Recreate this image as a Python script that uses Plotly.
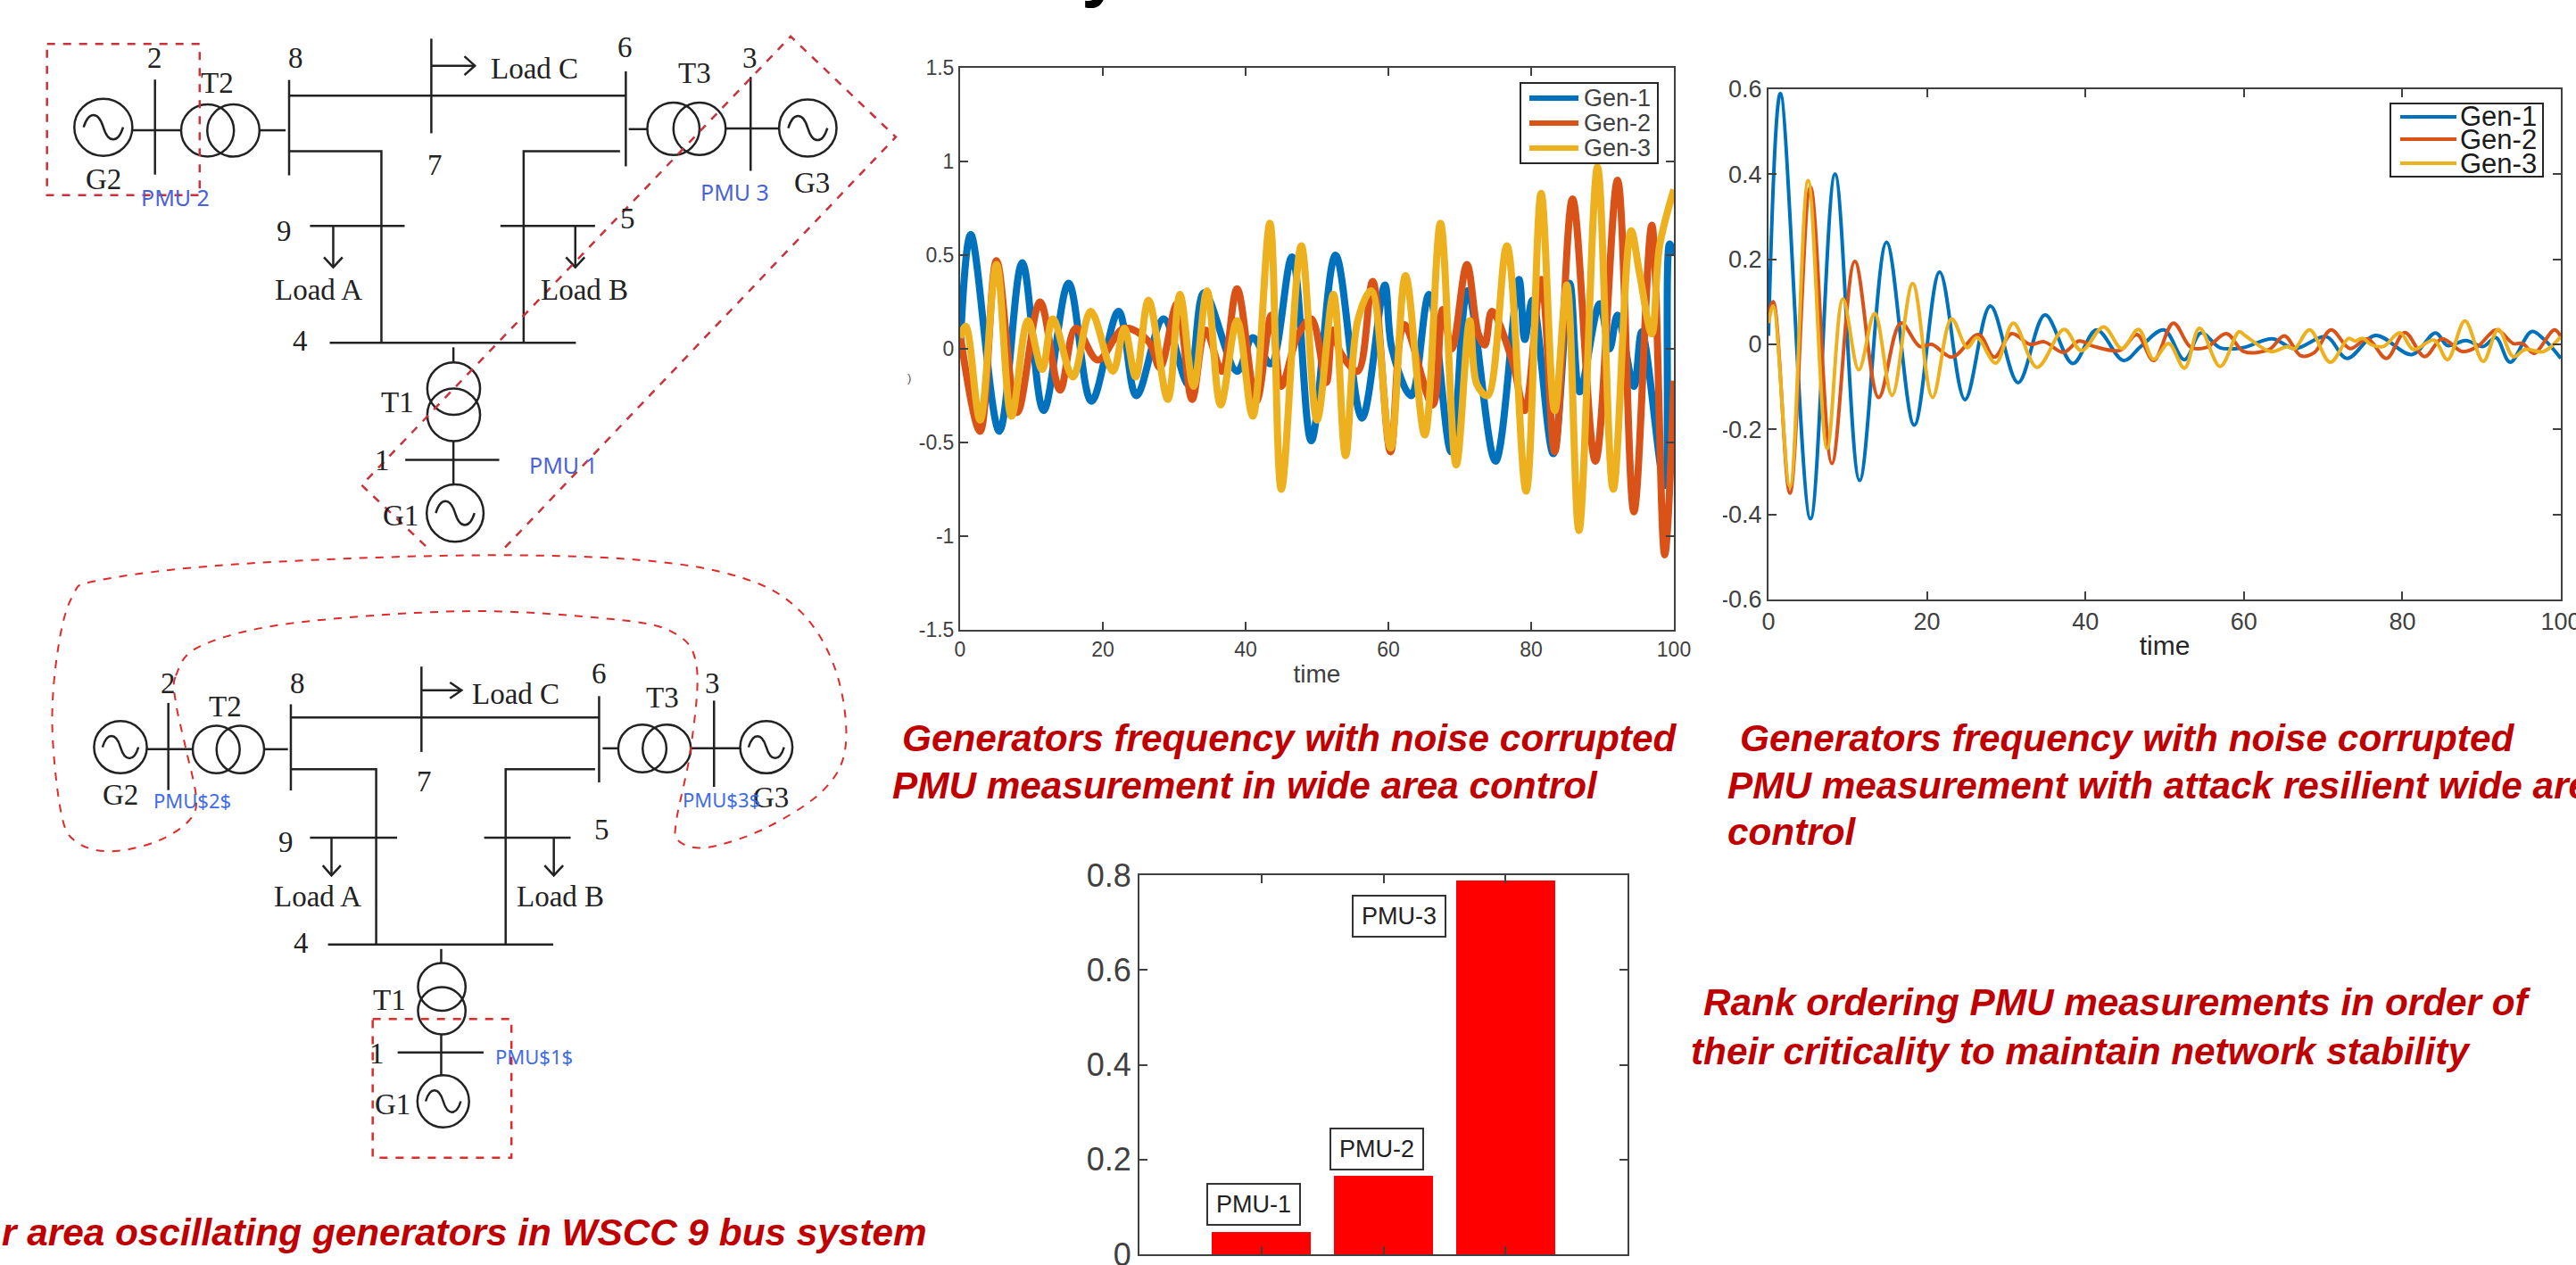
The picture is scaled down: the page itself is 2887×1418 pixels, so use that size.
import plotly.graph_objects as go

W, H = 2887, 1418

# ---------- data: noisy PMU frequency panel ----------
n1_t = [0, 1.5, 5.5, 8.7, 11.7, 15.2, 18.4, 22.2, 24.7, 28.5, 32, 34.2, 38.8, 41, 43.5, 46.5, 49.2, 52.6, 56.3, 59.5, 60.5, 63.2, 65.7, 68.8, 71.1, 75, 78.3, 79.1, 80.2, 83.1, 85.4, 86.8, 89.6, 91, 92.1, 94.4, 95.5, 98.7, 99.4, 100]
n1_v = [0, 0.61, -0.44, 0.46, -0.33, 0.35, -0.28, 0.2, -0.25, 0.16, -0.19, 0.3, -0.12, 0.06, -0.08, 0.49, -0.49, 0.5, -0.37, 0.34, 0, -0.25, 0.29, -0.55, 0.31, -0.6, 0.37, 0.05, 0.26, -0.56, 0.35, -0.23, 0.24, 0, 0.18, -0.2, 0.09, -0.73, 0.56, 0.5]
n2_t = [0, 2.8, 5.1, 8, 11.2, 14, 16.2, 19.3, 23, 26.4, 28, 30.4, 32.5, 34.4, 36.7, 38.8, 41.5, 43.6, 45, 47.3, 49.2, 51.3, 52.2, 53.3, 55.7, 57.8, 60.3, 62.2, 66.2, 67.6, 68.9, 71, 72.6, 73.5, 74.5, 77.4, 79.1, 81.4, 83.3, 85.8, 89, 92.1, 94.4, 96.9, 98.7, 100]
n2_v = [0.08, -0.44, 0.47, -0.34, 0.25, -0.22, 0.11, -0.06, 0.11, 0.04, -0.1, 0.24, -0.27, 0.1, -0.12, 0.32, -0.28, 0.18, -0.2, 0.07, 0.16, -0.18, 0.1, -0.02, -0.12, 0.36, -0.55, 0.13, -0.3, 0.21, 0, 0.45, 0.08, 0.02, 0.2, -0.07, -0.33, 0.37, -0.55, 0.8, -0.6, 0.9, -0.87, 0.66, -1.1, -0.17]
n3_t = [0, 0.8, 2.8, 5.1, 7.2, 9.5, 11.5, 13, 15.8, 18.3, 21.4, 23, 24.6, 26.4, 29.1, 30.8, 32.7, 34.6, 36.5, 38.8, 41, 43.4, 45, 47.8, 50, 52.3, 54, 55.7, 57.6, 60.3, 62.4, 65.1, 67.3, 69.5, 71.4, 72.4, 73.9, 76.6, 79.3, 81.4, 83.3, 85, 86.7, 89.3, 91.5, 94, 95.2, 96.9, 98, 100]
n3_v = [0.06, 0.12, -0.38, 0.45, -0.36, 0.15, -0.11, 0.16, -0.15, 0.2, -0.12, 0.11, -0.15, 0.26, -0.27, 0.29, -0.2, 0.31, -0.3, 0.15, -0.36, 0.67, -0.75, 0.55, -0.38, 0.29, -0.57, 0.15, 0.31, -0.53, 0.39, -0.46, 0.67, -0.62, 0.15, -0.19, -0.25, 0.55, -0.76, 0.83, -0.33, 0.34, -0.97, 0.97, -0.75, 0.63, 0.4, 0.08, 0.55, 0.85]

# ---------- data: attack resilient panel ----------
r1_t = [0, 1.5, 5.3, 8.4, 11.5, 14.9, 18.4, 21.6, 24.8, 28, 31.5, 34.9, 38.4, 41.4, 44.8, 47, 49.9, 52.5, 54.6, 57, 59.8, 63.6, 66.4, 70.4, 73, 76.6, 81.2, 84.2, 85.7, 88, 90.2, 91.8, 93.6, 96.3, 97.8, 100]
r1_v = [0.02, 0.59, -0.41, 0.4, -0.32, 0.24, -0.19, 0.17, -0.13, 0.09, -0.09, 0.069, -0.045, 0.034, -0.038, -0.005, 0.034, -0.036, 0.027, -0.008, -0.008, 0.013, -0.01, 0.018, -0.033, 0.021, -0.024, 0.027, -0.003, 0.009, -0.005, 0.016, -0.042, 0.03, 0.013, -0.033]
r2_t = [0, 0.6, 2.7, 5.3, 8, 10.9, 13.9, 16.7, 19.1, 20.6, 23.2, 26.5, 28.5, 30.7, 33, 34.8, 37.2, 39.2, 41.1, 44.4, 46.5, 48.6, 51.1, 53.3, 55.3, 57.8, 60, 63.2, 65.1, 67.2, 68.9, 71, 73.4, 75.6, 78, 80.3, 82.8, 85, 87.6, 89.5, 91.9, 94, 95.2, 96.6, 99.2, 100]
r2_v = [0.07, 0.1, -0.35, 0.37, -0.28, 0.195, -0.125, 0.05, -0.005, 0, -0.03, 0.023, -0.03, 0.025, 0, 0.006, -0.019, 0.008, -0.005, -0.014, 0.023, -0.038, 0.05, -0.007, -0.007, 0.025, -0.017, -0.012, 0.02, -0.027, -0.019, 0.034, -0.01, 0.013, -0.033, 0.028, -0.029, 0.013, -0.017, -0.005, 0.034, 0.002, 0.002, -0.021, 0.034, 0.018]
r3_t = [0, 0.6, 2.7, 5, 7.4, 9.4, 11.4, 13.4, 15.6, 18.2, 20.7, 23.1, 25.1, 26.3, 28.7, 30.9, 33.9, 37.3, 39.5, 42.3, 44.6, 46.7, 48.6, 50.5, 52.5, 54.4, 57, 59.4, 60.2, 63.4, 65.5, 66.4, 68.3, 70.9, 73.2, 74, 75, 76.1, 77.6, 79.7, 81.4, 84, 85.7, 87.9, 90.2, 92.1, 94, 95.5, 97.8, 100]
r3_v = [0.05, 0.09, -0.335, 0.385, -0.245, 0.107, -0.06, 0.073, -0.12, 0.143, -0.125, 0.06, -0.008, 0.016, -0.044, 0.05, -0.054, 0.035, -0.015, 0.041, -0.01, 0.035, -0.035, 0.002, -0.056, 0.038, -0.052, 0.03, 0.02, -0.017, -0.005, -0.01, 0.034, -0.042, 0.014, 0.008, 0.014, -0.001, -0.005, 0.027, -0.012, 0.01, -0.036, 0.055, -0.04, 0.035, -0.029, -0.012, -0.017, 0.018]

# ---------- data: bar panel ----------
pmu_pos = [1, 2, 3]
pmu_rank = [0.048, 0.166, 0.789]
pmu_labels = ["PMU-1", "PMU-2", "PMU-3"]

gen_names = ["Gen-1", "Gen-2", "Gen-3"]
gen_colors = ["#0072BD", "#D95319", "#EDB120"]
xticks = [0, 20, 40, 60, 80, 100]
n_yticks = [-1.5, -1, -0.5, 0, 0.5, 1, 1.5]
n_yticktext = ["-1.5", "-1", "-0.5", "0", "0.5", "1", "1.5"]
r_yticks = [-0.6, -0.4, -0.2, 0, 0.2, 0.4, 0.6]
r_yticktext = ["-0.6", "-0.4", "-0.2", "0", "0.2", "0.4", "0.6"]
b_yticks = [0, 0.2, 0.4, 0.6, 0.8]
b_yticktext = ["0", "0.2", "0.4", "0.6", "0.8"]

captions = [
    ("Generators frequency with noise corrupted", 1009, 827),
    ("PMU measurement in wide area control", 998, 880),
    ("Generators frequency with noise corrupted", 1948, 827),
    ("PMU measurement with attack resilient wide are", 1934, 880),
    ("control", 1934, 932),
    ("Rank ordering PMU measurements in order of", 1907, 1123),
    ("their criticality to maintain network stability", 1893, 1178),
    ("r area oscillating generators in WSCC 9 bus system", 0, 1381),
]

# ---------- helpers ----------
def px(x):
    return x / W

def py(y):
    return 1 - y / H

shapes, notes = [], []

def poly(pts, color="#222222", width=2.5, dash="solid"):
    d = "M" + " L".join(f"{px(x):.5f},{py(y):.5f}" for x, y in pts)
    shapes.append(dict(type="path", path=d, xref="paper", yref="paper",
                       line=dict(color=color, width=width, dash=dash)))

def ring(x0, y0, x1, y1):
    shapes.append(dict(type="circle", xref="paper", yref="paper",
                       x0=px(x0), x1=px(x1), y0=py(y0), y1=py(y1),
                       line=dict(color="#222222", width=2.5)))

def box(x0, y0, x1, y1, fill="white", color="#333333", width=2):
    shapes.append(dict(type="rect", xref="paper", yref="paper",
                       x0=px(x0), x1=px(x1), y0=py(y0), y1=py(y1),
                       fillcolor=fill, line=dict(color=color, width=width)))

def text(s, x, y, size, color="#222222", family="Liberation Serif", anchor="center", **kw):
    notes.append(dict(text=s, x=px(x), y=py(y), xref="paper", yref="paper", showarrow=False,
                      xanchor=anchor, yanchor=kw.pop("yanchor", "middle"),
                      font=dict(size=size, color=color, family=family), **kw))

def sine(cx, cy, r):
    w, a = 0.68 * r, 0.56 * r
    P = lambda x, y: f"{px(x):.5f},{py(y):.5f}"
    d = (f"M{P(cx - w, cy)} C{P(cx - w * .75, cy - a)} {P(cx - w * .25, cy - a)} {P(cx, cy)}"
         f" C{P(cx + w * .25, cy + a)} {P(cx + w * .75, cy + a)} {P(cx + w, cy)}")
    shapes.append(dict(type="path", path=d, xref="paper", yref="paper",
                       line=dict(color="#222222", width=2.5)))

def smooth(pts, color, width=2):
    n = len(pts)
    P = lambda p: f"{px(p[0]):.5f},{py(p[1]):.5f}"
    d = "M" + P(pts[0])
    for i in range(n):
        p0, p1, p2, p3 = pts[i - 1], pts[i], pts[(i + 1) % n], pts[(i + 2) % n]
        c1 = (p1[0] + (p2[0] - p0[0]) / 6, p1[1] + (p2[1] - p0[1]) / 6)
        c2 = (p2[0] - (p3[0] - p1[0]) / 6, p2[1] - (p3[1] - p1[1]) / 6)
        d += f" C{P(c1)} {P(c2)} {P(p2)}"
    shapes.append(dict(type="path", path=d, xref="paper", yref="paper",
                       line=dict(color=color, width=width, dash="dash")))

def diagram(T, seg, rings, gens, labels):
    for s in seg:
        poly([T(*p) for p in s])
    for (a, b, c, d) in rings:
        x0, y0 = T(a, b)
        x1, y1 = T(c, d)
        ring(x0, y0, x1, y1)
    for (a, b, c, d) in gens:
        x0, y0 = T(a, b)
        x1, y1 = T(c, d)
        ring(x0, y0, x1, y1)
        sine((x0 + x1) / 2, (y0 + y1) / 2, (x1 - x0) / 2)
    for s, a, b in labels:
        x, y = T(a, b)
        text(s, x, y, 33)

# ---------- upper one-line diagram ----------
T1 = lambda X, Y: (X / 1.537, Y / 2.376)
diagram(T1,
    [[(267, 212), (267, 465)], [(228, 347), (313, 347)], [(448, 347), (492, 347)], [(498, 213), (498, 467)],
     [(498, 255), (1078, 255)], [(743, 103), (743, 355)], [(743, 175), (818, 175)], [(800, 150), (818, 175), (800, 200)],
     [(1078, 190), (1078, 443)], [(1083, 344), (1115, 344)], [(1250, 342), (1342, 342)], [(1293, 205), (1293, 455)],
     [(498, 403), (657, 403), (657, 913)], [(1068, 403), (902, 403), (902, 913)],
     [(534, 602), (697, 602)], [(574, 602), (574, 712)], [(558, 685), (574, 712), (590, 685)],
     [(862, 602), (1025, 602)], [(991, 602), (991, 712)], [(975, 685), (991, 712), (1007, 685)],
     [(568, 913), (992, 913)], [(781, 925), (781, 965)], [(781, 1175), (781, 1290)], [(698, 1225), (860, 1225)]],
    [(312, 278, 403, 417), (357, 278, 447, 417), (1115, 273, 1205, 413), (1160, 273, 1250, 413),
     (736, 965, 827, 1105), (736, 1035, 827, 1175)],
    [(128, 263, 228, 415), (1342, 265, 1441, 417), (735, 1290, 833, 1443)],
    [("2", 267, 155), ("8", 510, 155), ("6", 1077, 127), ("3", 1292, 155), ("T2", 375, 222), ("T3", 1197, 195),
     ("Load C", 921, 183), ("7", 750, 440), ("G2", 178, 478), ("G3", 1398, 487), ("9", 489, 615), ("5", 1082, 583),
     ("Load A", 548, 772), ("Load B", 1006, 772), ("4", 517, 908), ("T1", 684, 1072), ("1", 659, 1225), ("G1", 690, 1373)])
for s, a, b in [("PMU 2", 302, 525), ("PMU 3", 1265, 510), ("PMU 1", 970, 1237)]:
    x, y = T1(a, b)
    text(s, x, y, 25, color="#4A62D8", family="Noto Sans")
RED1 = "#C8323C"
poly([T1(81, 117), T1(344, 117), T1(344, 520), T1(81, 520), T1(81, 117)], color=RED1, dash="dash")
poly([T1(870, 1458), T1(1543, 365), T1(1362, 97), T1(623, 1292), T1(737, 1460)], color=RED1, dash="dash")

# ---------- lower one-line diagram ----------
T2 = lambda X, Y: (X / 1.537, 620 + Y / 1.965)
diagram(T2,
    [[(290, 330), (290, 522)], [(253, 432), (332, 432)], [(455, 432), (496, 432)], [(501, 333), (501, 523)],
     [(501, 362), (1032, 362)], [(726, 250), (726, 438)], [(726, 302), (795, 302)], [(775, 285), (795, 302), (775, 320)],
     [(1032, 315), (1032, 505)], [(1038, 430), (1065, 430)], [(1190, 430), (1275, 430)], [(1230, 325), (1230, 515)],
     [(501, 476), (648, 476), (648, 862)], [(1025, 476), (871, 476), (871, 862)],
     [(534, 627), (684, 627)], [(571, 627), (571, 710)], [(556, 688), (571, 710), (587, 688)],
     [(834, 627), (983, 627)], [(954, 627), (954, 710)], [(938, 688), (954, 710), (970, 688)],
     [(565, 862), (953, 862)], [(760, 872), (760, 903)], [(760, 1060), (760, 1150)], [(685, 1100), (833, 1100)]],
    [(332, 380, 413, 485), (373, 380, 455, 485), (1065, 378, 1148, 483), (1107, 378, 1190, 483),
     (720, 903, 802, 1008), (720, 956, 802, 1060)],
    [(162, 370, 253, 485), (1275, 370, 1365, 485), (719, 1150, 808, 1265)],
    [("2", 290, 287), ("8", 512, 287), ("6", 1032, 265), ("3", 1228, 287), ("T2", 388, 338), ("T3", 1141, 318),
     ("Load C", 889, 310), ("7", 731, 503), ("G2", 208, 533), ("G3", 1328, 538), ("9", 493, 637), ("5", 1037, 610),
     ("Load A", 547, 757), ("Load B", 966, 757), ("4", 518, 858), ("T1", 671, 985), ("1", 650, 1102), ("G1", 677, 1215)])
for label, a, b in [("PMU$2$", 262, 544), ("PMU$3$", 1172, 542), ("PMU$1$", 850, 1108)]:
    x, y = T2(a, b)
    text(label, x, y, 22, color="#3F6BE8", family="Noto Sans", anchor="left")
RED2 = "#E02A2A"
smooth([T2(*p) for p in [(303, 270), (345, 205), (500, 155), (800, 128), (1050, 145), (1160, 175), (1200, 250), (1190, 430),
                         (1165, 590), (1170, 635), (1220, 648), (1320, 605), (1420, 520), (1457, 420), (1440, 260), (1380, 130),
                         (1280, 55), (1100, 15), (800, 5), (400, 25), (170, 60), (125, 95), (100, 210), (90, 380), (105, 570),
                         (130, 635), (190, 657), (270, 635), (325, 590), (338, 540), (320, 430), (303, 330)]], RED2)
poly([T2(642, 1026), T2(881, 1026), T2(881, 1332), T2(642, 1332), T2(642, 1026)], color=RED2, dash="dash")

# ---------- figure ----------
fig = go.Figure()
for i, (t, v) in enumerate([(n1_t, n1_v), (n2_t, n2_v), (n3_t, n3_v)]):
    fig.add_trace(go.Scatter(x=t, y=v, name=gen_names[i], mode="lines", xaxis="x", yaxis="y", showlegend=False,
                             line=dict(color=gen_colors[i], width=8, shape="spline", smoothing=1.0)))
for i, (t, v) in enumerate([(r1_t, r1_v), (r2_t, r2_v), (r3_t, r3_v)]):
    fig.add_trace(go.Scatter(x=t, y=v, name=gen_names[i], mode="lines", xaxis="x2", yaxis="y2", showlegend=False,
                             line=dict(color=gen_colors[i], width=4, shape="spline", smoothing=1.0)))
fig.add_trace(go.Bar(x=pmu_pos, y=pmu_rank, width=0.81, xaxis="x3", yaxis="y3", showlegend=False,
                     marker=dict(color="#FF0000", line=dict(width=0))))

def xdom(a, b):
    return [px(a), px(b)]

def ydom(top, bottom):
    return [py(bottom), py(top)]

def axis(size, color="#404040", **kw):
    return dict(showgrid=False, zeroline=False, showline=True, mirror="ticks", ticks="inside", ticklen=9,
                tickcolor="#404040", tickwidth=2, linecolor="#404040", linewidth=2, ticklabeloverflow="allow",
                tickfont=dict(size=size, color=color, family="Liberation Sans"), **kw)

fig.update_layout(
    width=W, height=H, autosize=False, margin=dict(l=0, r=0, t=0, b=0, autoexpand=False),
    paper_bgcolor="white", plot_bgcolor="white", showlegend=False, bargap=0,
    xaxis=axis(23, domain=xdom(1076, 1876), range=[0, 100], tickvals=xticks, anchor="y",
               title=dict(text="time", font=dict(size=28, color="#404040", family="Liberation Sans"), standoff=6)),
    yaxis=axis(23, domain=ydom(76, 706), range=[-1.5, 1.5], tickvals=n_yticks, ticktext=n_yticktext, anchor="x"),
    xaxis2=axis(27, domain=xdom(1982, 2870), range=[0, 100], tickvals=xticks, anchor="y2",
                title=dict(text="time", font=dict(size=30, color="#262626", family="Liberation Sans"), standoff=2)),
    yaxis2=axis(27, domain=ydom(100, 672), range=[-0.6, 0.6], tickvals=r_yticks, ticktext=r_yticktext, anchor="x2"),
    xaxis3=axis(10, domain=xdom(1277, 1824), range=[0, 4], tickvals=pmu_pos, ticktext=["", "", ""], anchor="y3"),
    yaxis3=axis(36, domain=ydom(981, 1406), range=[0, 0.8], tickvals=b_yticks, ticktext=b_yticktext, anchor="x3"),
)

# legends
def legend(x0, y0, x1, y1, rows, line_x0, line_x1, tx, size, lw, color):
    box(x0, y0, x1, y1, color="#262626", width=2)
    for name, c, y in zip(gen_names, gen_colors, rows):
        poly([(line_x0, y), (line_x1, y)], color=c, width=lw)
        text(name, tx, y, size, color=color, family="Liberation Sans", anchor="left")

legend(1704, 93, 1858, 183, [110, 138, 166], 1714, 1769, 1773, 27, 6, "#404040")
legend(2679, 116, 2850, 198, [131, 156, 183], 2690, 2753, 2755, 31, 4, "#1a1a1a")

# clipped edge of the -0.x labels in the source picture
box(1900, 400, 1931, 690, color="white", width=0)

# bar labels
for lab, cx, cy in zip(pmu_labels, [1405, 1543, 1568], [1350, 1288, 1027]):
    notes.append(dict(text=lab, x=px(cx), y=py(cy), xref="paper", yref="paper", showarrow=False,
                      xanchor="center", yanchor="middle", width=100, height=42, bgcolor="white",
                      bordercolor="#333333", borderwidth=2, align="center", valign="middle",
                      font=dict(size=27, color="#222222", family="Liberation Sans")))

# captions
for s, x, y in captions:
    text(f"<b><i>{s}</i></b>", x, y, 42.3, color="#C00000", family="Liberation Sans", anchor="left")

# cut off heading at the very top and stray glyph left of the first plot
text("<b>y</b>", 1234, 11, 80, color="#000000", family="Liberation Sans", yanchor="bottom")
text(")", 1019, 424, 13, color="#555555", family="Liberation Sans")

fig.update_layout(shapes=shapes, annotations=notes)
fig.write_html("out.html", config={"displayModeBar": False},
               post_script="document.body.style.margin='0';document.documentElement.style.overflow='hidden';")
